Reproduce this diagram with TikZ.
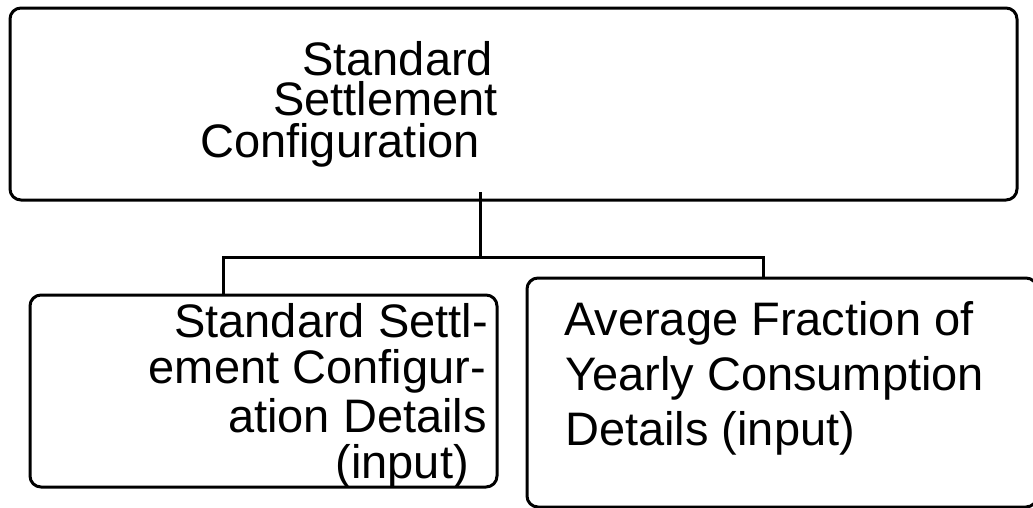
\documentclass[tikz,border=0pt]{standalone}
\usepackage{fontspec}
\setmainfont{Liberation Sans}
\begin{document}
\begin{tikzpicture}[x=1pt,y=-1pt,
  box/.style={draw=black,line width=3pt,rounded corners=11pt,inner sep=0pt,outer sep=0pt,anchor=north west},
  wire/.style={draw=black,line width=3pt},
  txt/.style={inner sep=0pt,font=\fontsize{47}{47}\selectfont},
  tight/.style={text height=34pt,text depth=5pt}]
\useasboundingbox (0,0) rectangle (1033,507);

% boxes
\node[box,minimum width=1007pt,minimum height=192pt] (top) at (10,8) {};
\node[box,minimum width=467pt,minimum height=192pt] (left) at (30,295) {};
\node[box,minimum width=510pt,minimum height=229pt] (right) at (527,278) {};

% labels
\node[txt,tight,anchor=base west] (t1) at (302,75) {Standard};
\node[txt,tight,anchor=base west] (t2) at (273,115) {Settlement};
\node[txt,tight,anchor=base west] (t3) at (200,157) {Configuration};

\node[txt,anchor=base east] (l1) at (488,337) {Standard Settl-};
\node[txt,anchor=base east] (l2) at (486,383) {ement Configur-};
\node[txt,anchor=base east] (l3) at (487,432) {ation Details};
\node[txt,anchor=base east] (l4) at (469,478) {(input)};

\node[txt,anchor=base west] (r1) at (564,335) {Average Fraction of};
\node[txt,anchor=base west] (r2) at (565,390) {Yearly Consumption};
\node[txt,anchor=base west] (r3) at (565,445) {Details (input)};

% connectors
\coordinate (stem) at (480,192);
\coordinate (hub) at (480,257);
\coordinate (lj) at (223,257);
\coordinate (rj) at (763,257);
\draw[wire] (stem) -- (hub);
\draw[wire] (lj |- left.north) -- (lj) -- (rj) -- (rj |- right.north);
\end{tikzpicture}
\end{document}
